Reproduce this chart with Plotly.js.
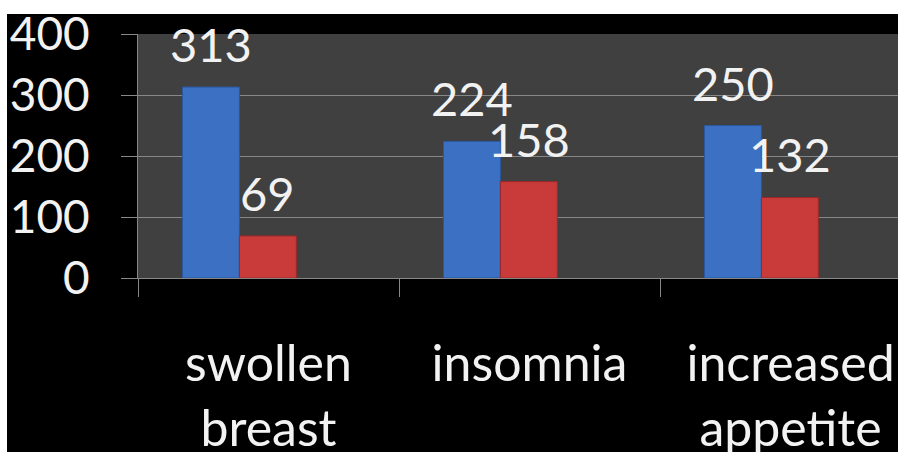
<!DOCTYPE html>
<html>
<head>
<meta charset="utf-8">
<script src="https://cdn.plot.ly/plotly-3.0.1.min.js"></script>
<style>
  html, body { margin: 0; padding: 0; background: #ffffff; width: 898px; height: 452px; overflow: hidden; }
  #chart { position: absolute; left: 7px; top: 14px; width: 891px; height: 438px; }
</style>
</head>
<body>
<div id="chart"></div>
<script>
// Symptom counts for the two groups
const categories = ["swollen<br>breast", "insomnia", "increased<br>appetite"];
const seriesBlue = [313, 224, 250];
const seriesRed = [69, 158, 132];
const yTicks = [0, 100, 200, 300, 400];

const FONT = "Lato, 'Open Sans', sans-serif";
const TEXT = "#f2f2f2";
const GRID = "#878787";

// bar geometry in category units (three slots per group, third slot empty)
const barWidth = 0.218;
const blueOffset = -0.3295;
const redOffset = blueOffset + barWidth;

const traces = [
  {
    type: "bar", x: categories, y: seriesBlue,
    width: barWidth, offset: blueOffset,
    marker: { color: "#3b70c3", line: { color: "#2a579e", width: 1 } },
    hoverinfo: "skip"
  },
  {
    type: "bar", x: categories, y: seriesRed,
    width: barWidth, offset: redOffset,
    marker: { color: "#c93b3b", line: { color: "#9a2828", width: 1 } },
    hoverinfo: "skip"
  }
];

// value labels above each bar, placed at the bar centre
const annotations = [];
[[seriesBlue, blueOffset], [seriesRed, redOffset]].forEach(([vals, off]) => {
  vals.forEach((v, i) => {
    annotations.push({
      x: i + off + barWidth / 2, y: v, xref: "x", yref: "y",
      text: String(v), showarrow: false, yanchor: "bottom", xanchor: "center",
      yshift: 13, font: { family: FONT, size: 47, color: TEXT }
    });
  });
});

const layout = {
  width: 891, height: 438,
  margin: { l: 131, r: 0, t: 20, b: 174, pad: 0 },
  paper_bgcolor: "#000000",
  plot_bgcolor: "#404040",
  barmode: "overlay",
  showlegend: false,
  font: { family: FONT, size: 48, color: TEXT },
  xaxis: {
    type: "category",
    range: [-0.5, -0.5 + 760 / 261],
    showgrid: false,
    showline: true, linecolor: GRID, linewidth: 1,
    ticks: "outside", tickson: "boundaries", ticklen: 18, tickcolor: GRID, tickwidth: 1,
    tickfont: { family: FONT, size: 50, color: TEXT },
    ticklabelstandoff: 42,
    zeroline: false
  },
  yaxis: {
    range: [0, 400],
    tickvals: yTicks,
    ticktext: yTicks.map(String),
    showgrid: true, gridcolor: GRID, gridwidth: 1,
    showline: true, linecolor: GRID, linewidth: 1,
    ticks: "outside", ticklen: 16, tickcolor: GRID, tickwidth: 1,
    tickfont: { family: FONT, size: 46, color: TEXT },
    ticklabelstandoff: 22,
    ticklabeloverflow: "allow",
    zeroline: false
  },
  annotations: annotations
};

Plotly.newPlot("chart", traces, layout, { staticPlot: true, displayModeBar: false });
</script>
</body>
</html>
